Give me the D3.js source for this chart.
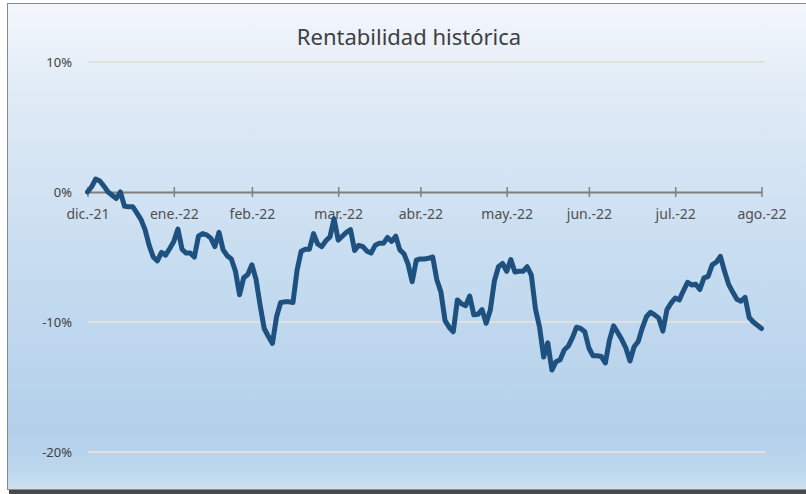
<!DOCTYPE html>
<html>
<head>
    <meta charset="utf-8">
    <title>Rentabilidad histórica</title>
    <script src="https://d3js.org/d3.v7.min.js"></script>
    <style>
        body {
            margin: 0;
            background-color: #ffffff;
        }
        text {
            font-family: "Noto Sans", sans-serif;
        }
    </style>
</head>
<body>
    <script>
        var width = 806;
        var height = 494;

        // month labels and the trading-day index at which each one sits
        const monthLabels = ["dic.-21", "ene.-22", "feb.-22", "mar.-22", "abr.-22", "may.-22", "jun.-22", "jul.-22", "ago.-22"];
        const monthIndex = [0, 21, 40, 61, 81, 102, 122, 143, 164];

        const yTicks = [0.10, 0, -0.10, -0.20];

        // cumulative return (%) per trading day
        const returns = [
            0.0, 0.4, 1.0, 0.85, 0.45, 0.0, -0.25, -0.5, 0.0, -1.1,
            -1.13, -1.13, -1.6, -2.1, -2.9, -4.1, -5.0, -5.3, -4.65, -4.85,
            -4.35, -3.8, -2.85, -4.4, -4.7, -4.7, -5.0, -3.4, -3.2, -3.3,
            -3.55, -4.2, -3.1, -4.45, -4.9, -5.15, -6.1, -7.9, -6.6, -6.35,
            -5.6, -6.7, -8.7, -10.5, -11.1, -11.65, -9.6, -8.5, -8.45, -8.45,
            -8.5, -6.0, -4.55, -4.4, -4.4, -3.2, -4.0, -4.2, -3.75, -3.45,
            -2.05, -3.7, -3.4, -3.1, -2.9, -4.5, -4.1, -4.2, -4.55, -4.7,
            -4.1, -3.95, -3.95, -3.5, -3.8, -3.4, -4.45, -4.75, -5.55, -6.9,
            -5.25, -5.15, -5.15, -5.1, -5.0, -6.75, -7.7, -9.9, -10.4, -10.75,
            -8.3, -8.6, -8.75, -8.0, -9.45, -9.4, -9.05, -10.1, -9.1, -6.85,
            -5.75, -5.5, -6.1, -5.2, -6.15, -6.1, -6.1, -5.75, -6.4, -9.0,
            -10.4, -12.7, -11.6, -13.7, -13.05, -12.9, -12.15, -11.85, -11.2, -10.4,
            -10.5, -10.75, -12.0, -12.6, -12.6, -12.65, -13.15, -11.4, -10.3, -10.8,
            -11.35, -12.0, -13.0, -11.9, -11.5, -10.45, -9.6, -9.25, -9.45, -9.7,
            -10.7, -9.05, -8.55, -8.15, -8.3, -7.6, -6.95, -7.15, -7.1, -7.5,
            -6.6, -6.5, -5.6, -5.4, -4.95, -6.1, -7.1, -7.7, -8.25, -8.4,
            -8.1, -9.65, -10.0, -10.25, -10.5
        ];

        var svg = d3.select("body")
            .append("svg")
            .attr("width", width)
            .attr("height", height);

        // chart area background
        var grad = svg.append("defs").append("linearGradient")
            .attr("id", "bg")
            .attr("x1", 0).attr("y1", 0)
            .attr("x2", 0).attr("y2", 1);
        [[0, "#f3f7fc"], [0.2, "#dfeaf6"], [0.55, "#c6dcf0"], [0.88, "#b3d0ea"], [0.96, "#bcd6ed"], [1, "#cfe1f2"]]
            .forEach(function (s) {
                grad.append("stop").attr("offset", s[0]).attr("stop-color", s[1]);
            });

        // shadow under the frame
        svg.append("rect")
            .attr("x", 9).attr("y", 6)
            .attr("width", 800).attr("height", 488)
            .attr("fill", "#4a4a4a");

        svg.append("rect")
            .attr("x", 7.5).attr("y", 3.5)
            .attr("width", 810).attr("height", 486)
            .attr("fill", "url(#bg)")
            .attr("stroke", "#8a8a8a")
            .attr("stroke-width", 1);

        var x = d3.scaleLinear()
            .domain([0, 164])
            .range([87.5, 761.5]);

        var y = d3.scaleLinear()
            .domain([-0.20, 0.10])
            .range([452, 62]);

        // gridlines
        svg.append("g")
            .selectAll("line")
            .data(yTicks)
            .enter()
            .append("line")
            .attr("x1", 88)
            .attr("x2", 765)
            .attr("y1", d => y(d))
            .attr("y2", d => y(d))
            .attr("stroke", "#e2dfdc")
            .attr("stroke-width", 2);

        // y labels
        svg.append("g")
            .selectAll("text")
            .data(yTicks)
            .enter()
            .append("text")
            .attr("x", 72)
            .attr("y", d => y(d))
            .attr("dy", "0.35em")
            .attr("text-anchor", "end")
            .attr("fill", "#404040")
            .style("font-size", "13px")
            .text(d => d3.format(".0%")(d).replace("−", "-"));

        // x axis at 0%
        var xAxis = d3.axisBottom(x)
            .tickValues(monthIndex)
            .tickFormat((d, i) => monthLabels[i])
            .tickSizeInner(5)
            .tickSizeOuter(0)
            .tickPadding(12);

        var gx = svg.append("g")
            .attr("transform", "translate(0," + y(0) + ")")
            .call(xAxis);

        gx.select(".domain")
            .attr("stroke", "#808080")
            .attr("stroke-width", 2);
        gx.selectAll(".tick line")
            .attr("y1", -5)
            .attr("stroke", "#808080")
            .attr("stroke-width", 1.5);
        gx.selectAll(".tick text")
            .attr("fill", "#505050")
            .style("font-size", "14px")
            .style("font-family", "'Noto Sans', sans-serif");

        // the return line
        var line = d3.line()
            .x((d, i) => x(i))
            .y(d => y(d / 100));

        svg.append("path")
            .datum(returns)
            .attr("d", line)
            .attr("fill", "none")
            .attr("stroke", "#1f5180")
            .attr("stroke-width", 5)
            .attr("stroke-linejoin", "round")
            .attr("stroke-linecap", "round");

        // title
        svg.append("text")
            .attr("x", 409)
            .attr("y", 45)
            .attr("text-anchor", "middle")
            .attr("fill", "#404040")
            .style("font-size", "22px")
            .text("Rentabilidad histórica");
    </script>
</body>
</html>
